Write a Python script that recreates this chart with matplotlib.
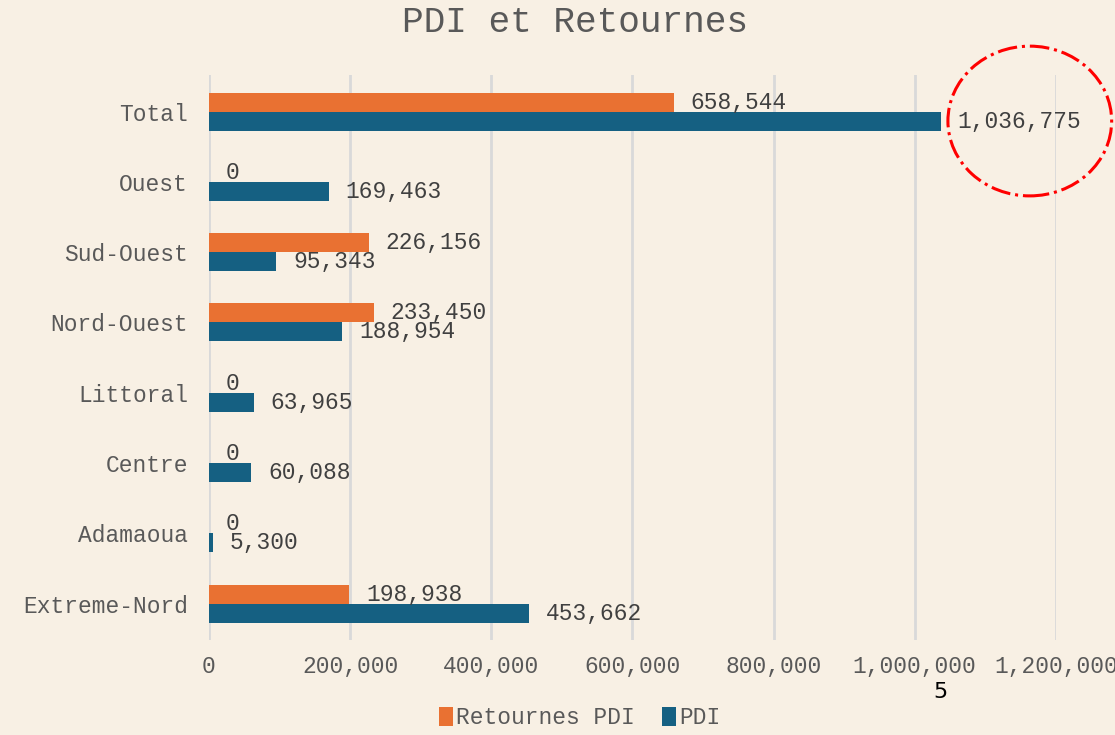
import matplotlib.pyplot as plt
import numpy as np
from matplotlib.patches import Ellipse
from matplotlib.ticker import FuncFormatter

regions = ['Extreme-Nord', 'Adamaoua', 'Centre', 'Littoral',
           'Nord-Ouest', 'Sud-Ouest', 'Ouest', 'Total']
retournes = [198938, 0, 0, 0, 233450, 226156, 0, 658544]
pdi = [453662, 5300, 60088, 63965, 188954, 95343, 169463, 1036775]

bg = '#F8F0E4'
orange = '#E97132'
blue = '#156082'
mono = ['Liberation Mono', 'DejaVu Sans Mono']

fig = plt.figure(figsize=(11.15, 7.35), dpi=100, facecolor=bg)
ax = fig.add_axes([0.1874, 0.129, 0.7596, 0.769], facecolor=bg)

y = np.arange(len(regions))
h = 0.27
b1 = ax.barh(y + h/2, retournes, height=h, color=orange, label='Retournes PDI', zorder=3)
b2 = ax.barh(y - h/2, pdi, height=h, color=blue, label='PDI', zorder=3)

for bars, vals in [(b1, retournes), (b2, pdi)]:
    for bar, v in zip(bars, vals):
        ax.annotate(f'{v:,}', (v, bar.get_y() + bar.get_height()/2),
                    xytext=(12, 0), textcoords='offset points',
                    va='center', ha='left', fontsize=16.5, color='#404040',
                    family=mono, zorder=4)

ax.set_xlim(0, 1200000)
ax.set_ylim(-0.52, 7.52)
ax.set_xticks(np.arange(0, 1200001, 200000))
ax.xaxis.set_major_formatter(FuncFormatter(lambda v, p: f'{int(v):,}'))
ax.set_yticks(y)
ax.set_yticklabels(regions)
for lab in ax.get_xticklabels() + ax.get_yticklabels():
    lab.set_family(mono)
    lab.set_fontsize(16.5)
    lab.set_color('#595959')
ax.tick_params(length=0)
ax.tick_params(axis='x', pad=11)
ax.tick_params(axis='y', pad=15)
ax.grid(axis='x', color='#D9D9D9', linewidth=2, zorder=0)
for s in ax.spines.values():
    s.set_visible(False)

fig.text(575/1115, 1 - 22/735, 'PDI et Retournes', family=mono, fontsize=26,
         color='#595959', ha='center', va='center')

# red highlight around the total label
ell = Ellipse((1163000, 7 - h/2), 232000, 2.13, fill=False, edgecolor='red',
              linestyle='-.', linewidth=2.2, clip_on=False, zorder=5)
ax.add_patch(ell)

fig.text(940/1115, 1 - 692/735, '5', ha='center', va='center', fontsize=16, color='black')

leg = fig.legend(handles=[b1, b2], loc='center', bbox_to_anchor=(0.52, 1 - 718/735),
                 ncol=2, frameon=False, prop={'family': mono, 'size': 16.5},
                 handlelength=0.6, handleheight=0.9, handletextpad=0.15, columnspacing=1.2)
for t in leg.get_texts():
    t.set_color('#595959')

fig.savefig('out.png', dpi=100, facecolor=bg)
